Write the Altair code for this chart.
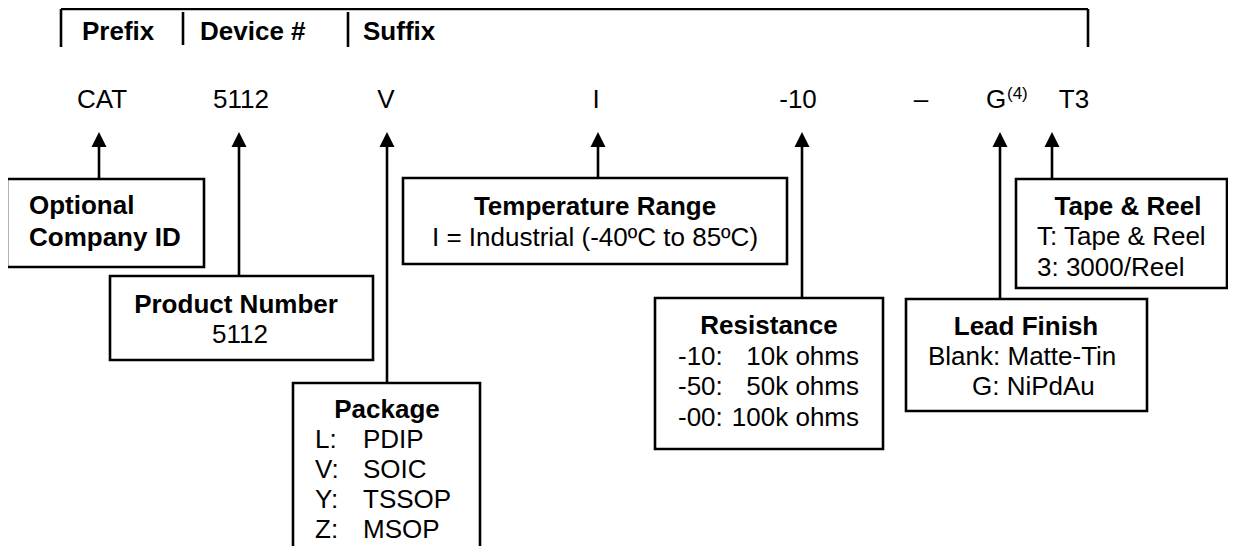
import altair as alt
import pandas as pd

# ---------------- data ----------------
# header bracket
header_labels = ["Prefix", "Device #", "Suffix"]
header_x = [82, 200, 363]
header_y = [40, 40, 40]
bracket_top_x = [61, 1088]
bracket_top_y = 9
bracket_v_x = [61, 183, 348, 1088]
bracket_v_y1 = [9, 12, 12, 9]
bracket_v_y2 = [47, 45, 47, 47]

# part-number code row
codes = ["CAT", "5112", "V", "I", "-10", "\u2013", "G", "T3"]
code_x = [102, 241, 386, 596, 798, 921, 996, 1074]
code_y = [108] * 8
note_text = ["(4)"]
note_x = [1007]
note_y = [99]

# arrows (from box top up to the code)
arrow_x = [99, 239, 387, 598, 802, 1000, 1052]
arrow_bottom = [179, 276, 383, 178, 298, 299, 179]
arrow_base = 146
arrow_head_y = 139.5

# boxes
box_names = ["Optional Company ID", "Product Number", "Package",
             "Temperature Range", "Resistance", "Lead Finish", "Tape & Reel"]
box_x1 = [7, 110, 293, 403, 655, 906, 1016]
box_x2 = [204, 373, 480, 787, 883, 1147, 1227]
box_y1 = [179, 276, 383, 178, 298, 299, 179]
box_y2 = [267, 360, 580, 264, 449, 411, 288]

# bold centred box titles
title_text = ["Temperature Range", "Product Number", "Package",
              "Resistance", "Lead Finish", "Tape & Reel"]
title_x = [595, 236, 387, 769, 1026, 1128]
title_y = [215, 313, 418, 334, 335, 215]

# bold left-aligned text
boldleft_text = ["Optional", "Company ID"]
boldleft_x = [29, 29]
boldleft_y = [214, 246]

# regular centred text
regc_text = ["I = Industrial (-40\u00baC to 85\u00baC)", "5112"]
regc_x = [595, 240]
regc_y = [246, 343]

# regular left-aligned text
regl_text = ["L:", "V:", "Y:", "Z:",
             "PDIP", "SOIC", "TSSOP", "MSOP",
             "-10:", "-50:", "-00:",
             "Blank: Matte-Tin", "G: NiPdAu",
             "T: Tape & Reel", "3: 3000/Reel"]
regl_x = [315, 315, 315, 315,
          363, 363, 363, 363,
          678, 678, 678,
          928, 972,
          1037, 1037]
regl_y = [448, 478, 508, 538,
          448, 478, 508, 538,
          365, 395, 426,
          365, 395,
          245, 276]

# regular right-aligned text
regr_text = ["10k ohms", "50k ohms", "100k ohms"]
regr_x = [859, 859, 859]
regr_y = [365, 395, 426]

# ---------------- chart ----------------
W, H = 1220, 538
X0, Y0 = 8, 8
FONT = "Liberation Sans"
FS = 26
SW = 2.6

xs = alt.Scale(domain=[X0, X0 + W], nice=False, zero=False)
ys = alt.Scale(domain=[Y0, Y0 + H], reverse=True, nice=False, zero=False)


def X(f="x"):
    return alt.X(f"{f}:Q", scale=xs, axis=None)


def Y(f="y"):
    return alt.Y(f"{f}:Q", scale=ys, axis=None)


top_df = pd.DataFrame({"x": [bracket_top_x[0]], "x2": [bracket_top_x[1]], "y": [bracket_top_y]})
top_rule = alt.Chart(top_df).mark_rule(color="black", strokeWidth=SW).encode(
    x=X(), x2=alt.X2("x2:Q"), y=Y())

v_df = pd.DataFrame({"x": bracket_v_x, "y": bracket_v_y1, "y2": bracket_v_y2})
v_rules = alt.Chart(v_df).mark_rule(color="black", strokeWidth=SW).encode(
    x=X(), y=Y(), y2=alt.Y2("y2:Q"))

shaft_df = pd.DataFrame({"x": arrow_x, "y": [arrow_base] * len(arrow_x), "y2": arrow_bottom})
shafts = alt.Chart(shaft_df).mark_rule(color="black", strokeWidth=SW).encode(
    x=X(), y=Y(), y2=alt.Y2("y2:Q"))

head_df = pd.DataFrame({"x": arrow_x, "y": [arrow_head_y] * len(arrow_x)})
heads = alt.Chart(head_df).mark_point(
    shape="M0,-1L-1,1L1,1Z", size=225, filled=True, color="black", opacity=1, strokeWidth=0
).encode(x=X(), y=Y())

box_df = pd.DataFrame({"name": box_names, "x": box_x1, "x2": box_x2, "y": box_y1, "y2": box_y2})
boxes = alt.Chart(box_df).mark_rect(
    fill="white", fillOpacity=0, stroke="black", strokeWidth=SW
).encode(x=X(), x2=alt.X2("x2:Q"), y=Y(), y2=alt.Y2("y2:Q"))


def text_layer(txt, xv, yv, align, weight, size=FS):
    df = pd.DataFrame({"t": txt, "x": xv, "y": yv})
    return alt.Chart(df).mark_text(
        align=align, baseline="alphabetic", font=FONT, fontSize=size,
        fontWeight=weight, color="black"
    ).encode(x=X(), y=Y(), text="t:N")


layers = [
    boxes, top_rule, v_rules, shafts, heads,
    text_layer(header_labels, header_x, header_y, "left", "bold"),
    text_layer(codes, code_x, code_y, "center", "normal"),
    text_layer(note_text, note_x, note_y, "left", "normal", 17),
    text_layer(title_text, title_x, title_y, "center", "bold"),
    text_layer(boldleft_text, boldleft_x, boldleft_y, "left", "bold"),
    text_layer(regc_text, regc_x, regc_y, "center", "normal"),
    text_layer(regl_text, regl_x, regl_y, "left", "normal"),
    text_layer(regr_text, regr_x, regr_y, "right", "normal"),
]

chart = alt.layer(*layers).properties(
    width=W, height=H, padding=0, autosize="none", background="white"
).configure_view(stroke=None)

chart.save("out.html", embed_options={"renderer": "svg", "actions": False})
